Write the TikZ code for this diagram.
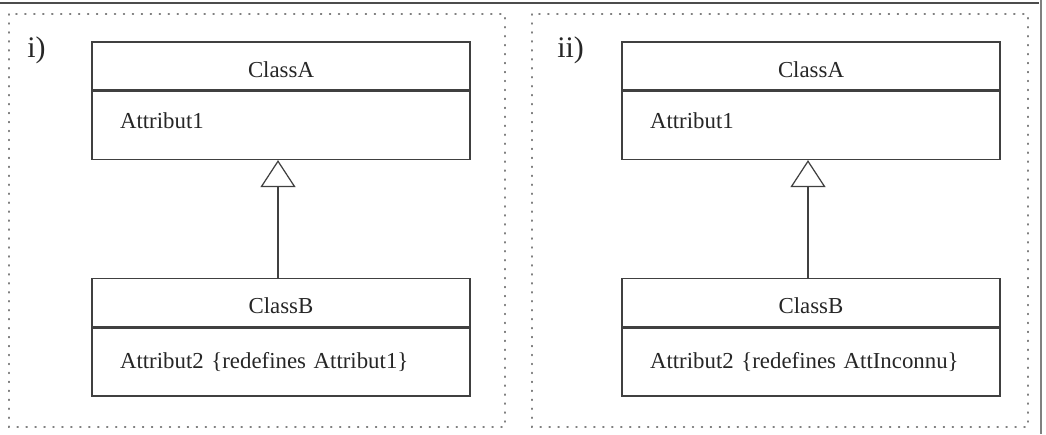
\documentclass[tikz,border=0pt]{standalone}
\usepackage{fontspec}
\setmainfont{Liberation Serif}
\usetikzlibrary{arrows.meta, positioning}

\tikzset{
  clshead/.style={draw=black!75, line width=0.8pt, minimum width=7.56cm, minimum height=0.96cm,
    inner sep=0pt, text height=12.6pt, text depth=0pt},
  clsbody/.style={draw=black!75, line width=0.8pt, minimum height=1.36cm, text width=6.44cm,
    inner xsep=0.56cm, inner ysep=0pt, align=left},
  panel/.style={draw=black!50, line width=0.8pt, dash pattern=on 0.6pt off 4.5pt, line cap=round},
  inherit/.style={draw=black!75, line width=0.7pt, -{Triangle[open, length=0.54cm, width=0.7cm]}},
  caselbl/.style={anchor=west, inner sep=0pt, font=\fontsize{17}{19}\selectfont},
}

\begin{document}
\begin{tikzpicture}[x=0.02cm, y=-0.02cm, font=\fontsize{13}{15}\selectfont, text=black!85]
    \useasboundingbox (0,0) rectangle (1046,434);
    % frame
    \draw[black!70, line width=1.2pt] (0,3) -- (1039,3);
    \draw[black!50, line width=0.9pt] (1041,0) -- (1041,434);
    \draw[panel] (9,14) rectangle (505,427);
    \draw[panel] (532,14) rectangle (1028,427);
    % i)
    \node[caselbl] (lbl1) at (27,50) {i)};
    \node[clshead] (headA1) at (281,66) {ClassA};
    \node[clsbody, below=0cm of headA1, text depth=5.6pt] (bodyA1) {Attribut1};
    \node[clshead, below=2.36cm of bodyA1] (headB1) {ClassB};
    \node[clsbody, below=0cm of headB1] (bodyB1) {Attribut2 \{redefines Attribut1\}};
    \draw[inherit] ([xshift=-0.06cm]headB1.north) -- ([xshift=-0.06cm]bodyA1.south);
    % ii)
    \node[caselbl] (lbl2) at (557,50) {ii)};
    \node[clshead] (headA2) at (811,66) {ClassA};
    \node[clsbody, below=0cm of headA2, text depth=5.6pt] (bodyA2) {Attribut1};
    \node[clshead, below=2.36cm of bodyA2] (headB2) {ClassB};
    \node[clsbody, below=0cm of headB2] (bodyB2) {Attribut2 \{redefines AttInconnu\}};
    \draw[inherit] ([xshift=-0.06cm]headB2.north) -- ([xshift=-0.06cm]bodyA2.south);
\end{tikzpicture}
\end{document}
